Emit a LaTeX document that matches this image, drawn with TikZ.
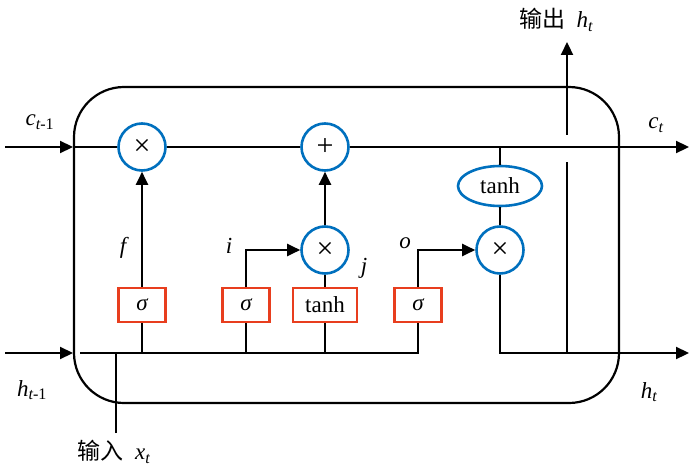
\documentclass[tikz,border=0pt]{standalone}
\usepackage{fontspec}
\setmainfont{Liberation Serif}
\newfontfamily\cjk{Noto Sans CJK SC}
\usetikzlibrary{arrows.meta,shapes.geometric}

\begin{document}
\begin{tikzpicture}[x=1pt, y=-1pt, >={Triangle[length=13pt,width=12pt]},
    line width=2.2pt, font=\fontsize{23}{27}\selectfont,
    op/.style={ circle, draw=opblue, line width=2.6pt, fill=white,
      minimum size=47pt, inner sep=0pt, font=\fontsize{30}{30}\selectfont },
    gate/.style={ rectangle, draw=gatered, line width=2.2pt, fill=white,
      minimum width=47pt, minimum height=34pt, inner sep=1pt },
    flow/.style={ ->, line width=2.2pt } ]
  \definecolor{opblue}{RGB}{0,112,190}
  \definecolor{gatered}{RGB}{232,62,30}
  \useasboundingbox (0,0) rectangle (700,473);
  \draw[rounded corners=50pt] (74,87) rectangle (619,403);
  % cell state
  \coordinate (cin) at (5,147);
  \coordinate (cleft) at (73,147);
  \coordinate (cout) at (689,147);
  \node[op] (fmul) at (142,147) {×};
  \node[op] (add) at (325,147) {+};
  % gates
  \node[gate] (fsig) at (142,305) {\itshape σ};
  \node[gate] (isig) at (246,305) {\itshape σ};
  \node[gate,minimum width=64pt] (jtanh) at (325,305) {tanh};
  \node[gate] (osig) at (418,305) {\itshape σ};
  \node[op] (imul) at (325,250) {×};
  \node[op] (omul) at (500,250) {×};
  \node[ellipse, draw=opblue, line width=2.6pt, minimum width=84pt,
    minimum height=40pt, inner sep=0pt] (ctanh) at (500,186) {tanh};
  % hidden state
  \coordinate (hin) at (5,353);
  \coordinate (hleft) at (73,353);
  \coordinate (hstart) at (80,353);
  \coordinate (hout) at (689,353);
  \coordinate (xin) at (116,433);
  \coordinate (yout) at (567,42);
  \draw[flow] (cin) -- (cleft);
  \draw (cleft) -- (fmul.west);
  \draw (fmul.east) -- (add.west);
  \draw[flow] (add.east) -- (cout);
  \draw (ctanh.north) -- (ctanh.north |- cout);
  \draw (ctanh.south) -- (omul.north);
  \draw[flow] (hin) -- (hleft);
  \draw (hstart) -| (osig.south);
  \draw (xin) -- (xin |- hstart);
  \foreach \g in {fsig,isig,jtanh}
    \draw (\g.south) -- (\g.south |- hstart);
  \draw[flow] (fsig.north) -- (fmul.south);
  \draw[flow] (isig.north) |- (imul.west);
  \draw (jtanh.north) -- (imul.south);
  \draw[flow] (imul.north) -- (add.south);
  \draw[flow] (osig.north) |- (omul.west);
  \draw[flow] (omul.south) |- (hout);
  \draw (yout |- hout) -- ([yshift=-15pt]yout |- cout);
  \draw[flow] ([yshift=12pt]yout |- cout) -- (yout);
  % labels
  \node (lcin) at (40,122) {\itshape c\textsubscript{t\upshape -1}};
  \node (lcout) at (656,125) {\itshape c\textsubscript{t}};
  \node (lhin) at (32,390) {\itshape h\textsubscript{t\upshape -1}};
  \node (lhout) at (649,392) {\itshape h\textsubscript{t}};
  \node (lf) at (123,248) {\itshape f};
  \node (li) at (229,246) {\itshape i};
  \node (lj) at (364,268) {\itshape j};
  \node (lo) at (405,243) {\itshape o};
  \node (lout) at (556,20) {{\cjk 输出}\ \ \itshape h\textsubscript{t}};
  \node (lin) at (114,452) {{\cjk 输入}\ \ \itshape x\textsubscript{t}};
\end{tikzpicture}
\end{document}
